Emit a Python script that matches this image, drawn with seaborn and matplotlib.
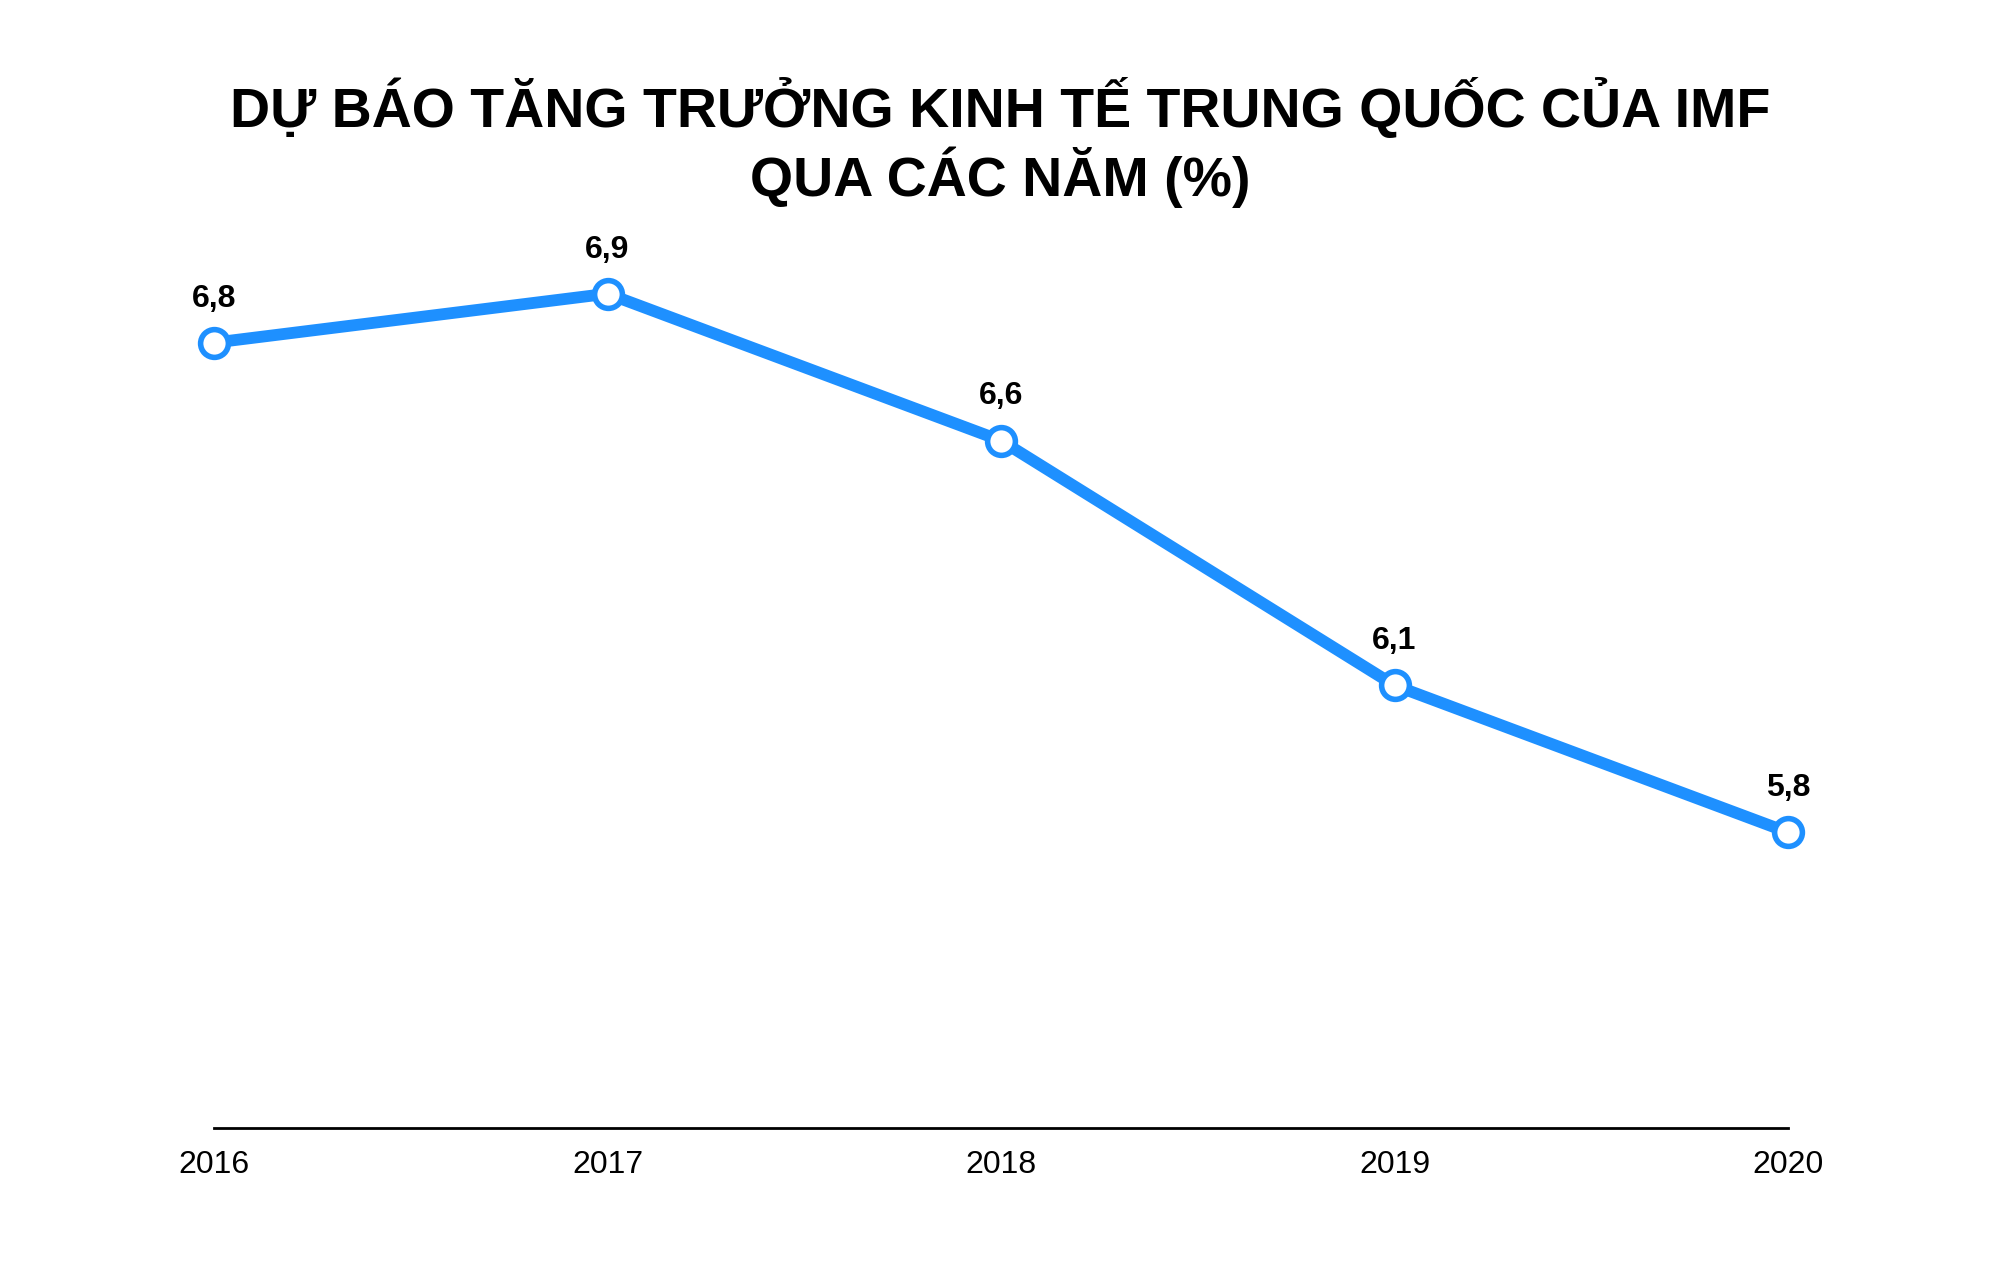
import matplotlib
matplotlib.use("Agg")
import matplotlib.pyplot as plt
import seaborn as sns
import pandas as pd

years = ["2016", "2017", "2018", "2019", "2020"]
values = [6.8, 6.9, 6.6, 6.1, 5.8]
labels = ["6,8", "6,9", "6,6", "6,1", "5,8"]

sns.set_theme(style="white")
plt.rcParams['font.family'] = ['Liberation Sans', 'DejaVu Sans']

df = pd.DataFrame({"x": range(len(years)), "y": values})
fig = plt.figure(figsize=(20, 12.76), dpi=100)
ax = fig.add_axes([0.107, 0.116, 0.787, 0.673])
color = "#1E90FF"
sns.lineplot(data=df, x="x", y="y", ax=ax, color=color, linewidth=8.5,
             marker="o", markersize=20, markerfacecolor="white",
             markeredgecolor=color, markeredgewidth=4, clip_on=False)
for i, (v, t) in enumerate(zip(values, labels)):
    ax.annotate(t, (i, v), xytext=(0, 21), textcoords="offset points",
                ha="center", va="bottom", fontsize=23, fontweight="bold", color="black")
ax.set_xlim(0, len(years) - 1)
ax.set_ylim(5.196, 6.95)
ax.set_xticks(range(len(years)))
ax.set_xticklabels(years, fontsize=23)
ax.set_yticks([])
ax.set_xlabel("")
ax.set_ylabel("")
for s in ["top", "right", "left"]:
    ax.spines[s].set_visible(False)
ax.spines["bottom"].set_color("black")
ax.spines["bottom"].set_linewidth(2)
ax.tick_params(axis="x", length=0, pad=16, colors="black")
fig.text(0.5, 0.888, "DỰ BÁO TĂNG TRƯỞNG KINH TẾ TRUNG QUỐC CỦA IMF\nQUA CÁC NĂM (%)",
         ha="center", va="center", fontsize=40, fontweight="bold", color="black",
         linespacing=1.15)
fig.savefig("out.png", dpi=100, facecolor="white")
